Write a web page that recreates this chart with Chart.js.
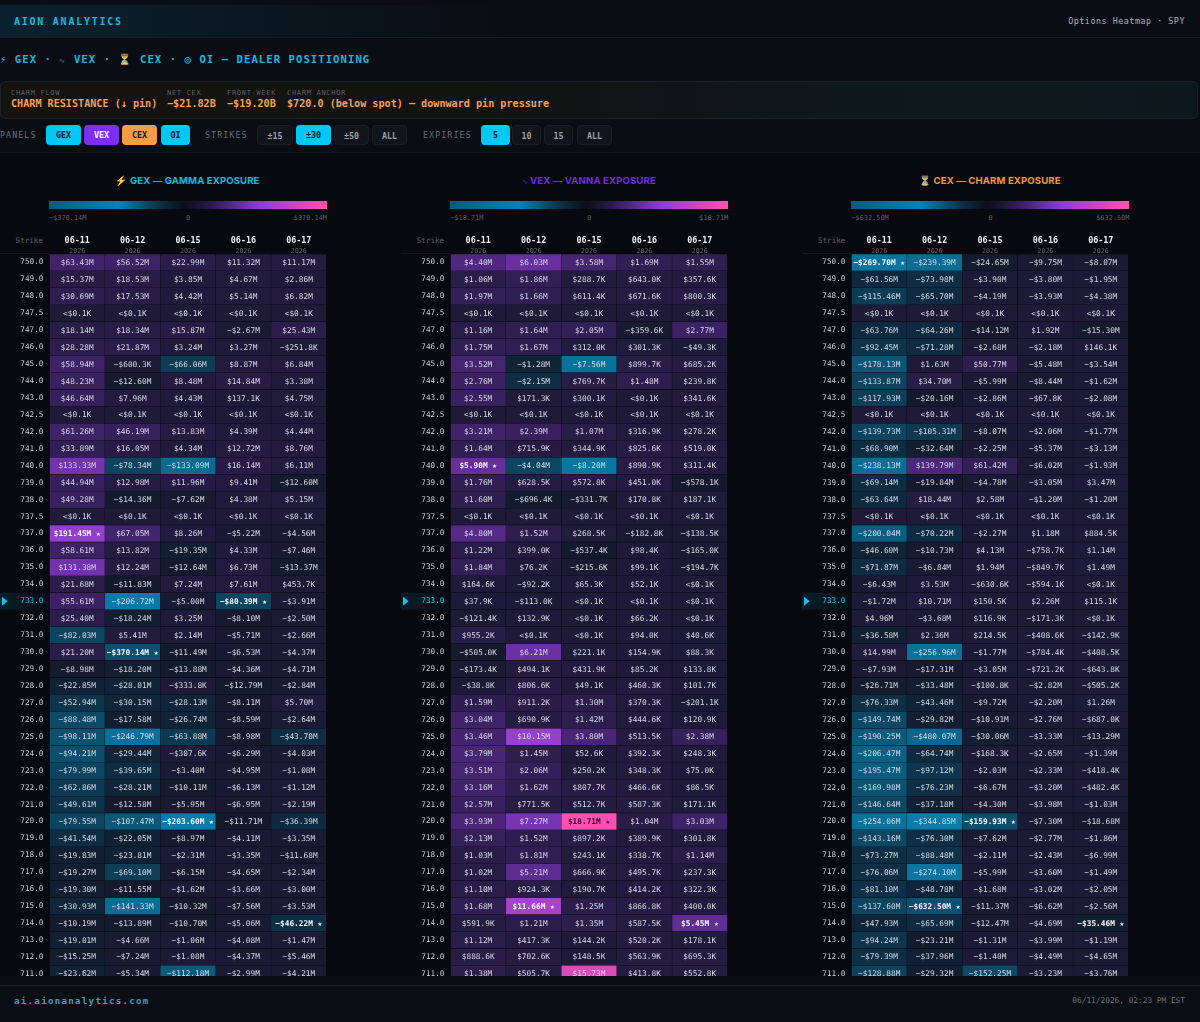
<!DOCTYPE html>
<html>
<head>
<meta charset="utf-8">
<title>Aion Analytics - Options Heatmap</title>
<script src="https://cdn.jsdelivr.net/npm/chart.js@4/dist/chart.umd.js"></script>
<style>
  * { box-sizing: border-box; }
  html, body { margin: 0; padding: 0; background: #0a0d14; }
  body { width: 1200px; height: 1022px; position: relative; overflow: hidden; font-family: "DejaVu Sans Mono", monospace; }
  .abs { position: absolute; white-space: nowrap; }
  .dim { font-size: 70%; opacity: .55; }
  #topbar { left: 0; top: 5px; width: 1200px; height: 33px; border-bottom: 1px solid #171c25; background: linear-gradient(90deg, #0a2230 0, #0a1a24 15%, #0a0d14 42%); }
  #brand { left: 14px; top: 16px; font: bold 10px "DejaVu Sans Mono", monospace; letter-spacing: 1.75px; color: #12b8e0; }
  #ctx { right: 15px; top: 16px; font: 8.4px "DejaVu Sans Mono", monospace; letter-spacing: .52px; color: #aab0ba; }
  #headline { left: 0; top: 53px; font: bold 10.6px "DejaVu Sans Mono", monospace; letter-spacing: 1.05px; color: #12b8e0; }
  #strip { left: 0; top: 81px; width: 1198px; height: 38px; border: 1px solid #1c2028; border-radius: 5px; background: linear-gradient(90deg, #15130f 0, #12130f 35%, #0e171c 70%, #0d181e 100%); }
  .lab { font: 7px "DejaVu Sans Mono", monospace; color: #5d5f66; letter-spacing: .7px; top: 89px; }
  .val { font: bold 10.15px "DejaVu Sans Mono", monospace; color: #f6a04d; top: 98px; }
  .group { font: 8.4px "DejaVu Sans Mono", monospace; letter-spacing: 1.05px; color: #686c75; top: 130px; }
  .btn { top: 125px; height: 20px; border-radius: 4px; font: bold 8.4px/20px "DejaVu Sans Mono", monospace; text-align: center; border: 1px solid #1b1e26; background: #12141b; color: #9a9ea8; }
  .btn.on { border: none; color: #0a1520; }
  #rule { left: 0; top: 152px; width: 1200px; height: 1px; background: #14171f; }
  #board { left: 0; top: 153px; width: 1200px; height: 823px; background: #08090f; overflow: hidden; }
  .ptitle { top: 175px; width: 401px; text-align: center; font: bold 9.6px Inter, sans-serif; letter-spacing: .1px; }
  .bar { top: 201px; width: 278px; height: 8px; background: linear-gradient(90deg, #0a5a7a 0, #0880b0 25%, #0b2f44 40%, #0c0e17 49%, #2a1a4a 58%, #8a40d0 76%, #ff50b0 100%); }
  .scale { top: 214px; font: 6.9px "DejaVu Sans Mono", monospace; color: #5c5f68; }
  .strike { top: 236px; font: 7.6px "DejaVu Sans Mono", monospace; color: #5c5f68; width: 43px; text-align: right; }
  .wrap { top: 226px; width: 401px; height: 750px; overflow: hidden; }
  #footer { left: 0; top: 985px; width: 1200px; height: 37px; border-top: 1px solid #1a2028; background: #0a0e15; }
  #site { left: 14px; top: 995px; font: bold 9.2px "DejaVu Sans Mono", monospace; letter-spacing: 1.25px; color: #3e9dbb; }
  #stamp { right: 15px; top: 996px; font: 7.8px "DejaVu Sans Mono", monospace; color: #6c707a; }
</style>
</head>
<body>
<div class="abs" id="topbar"></div>
<div class="abs" id="brand">AION ANALYTICS</div>
<div class="abs" id="ctx">Options Heatmap · SPY</div>
<div class="abs" id="headline">⚡ GEX · <span class="dim">∿</span> VEX · ⏳ CEX · ◎ OI — DEALER POSITIONING</div>
<div class="abs" id="strip"></div>
<div class="abs" id="rule"></div>
<div class="abs" id="board"></div>
<div class="abs" id="footer"></div>
<div class="abs" id="site">ai.aionanalytics.com</div>
<div class="abs" id="stamp">06/11/2026, 02:23 PM EST</div>

<script>
const expiries = ["06-11", "06-12", "06-15", "06-16", "06-17"];
const expiryYear = "2026";
const spotStrike = "733.0";
const strikes = ["750.0","749.0","748.0","747.5","747.0","746.0","745.0","744.0","743.0","742.5","742.0","741.0","740.0","739.0","738.0","737.5","737.0","736.0","735.0","734.0","733.0","732.0","731.0","730.0","729.0","728.0","727.0","726.0","725.0","724.0","723.0","722.0","721.0","720.0","719.0","718.0","717.0","716.0","715.0","714.0","713.0","712.0","711.0"];

// values in $M, one row per strike, 0 means <$0.1K
const gexRows = [
  [63.43,56.52,22.99,11.32,11.17],[15.37,18.53,3.85,4.67,2.86],[30.69,17.53,4.42,5.14,6.82],[0,0,0,0,0],
  [18.14,18.34,15.87,-2.67,25.43],[28.28,21.87,3.24,3.27,-0.2518],[58.94,-0.6003,-66.06,8.87,6.84],[48.23,-12.60,8.48,14.84,3.38],
  [46.64,7.96,4.43,0.1371,4.75],[0,0,0,0,0],[61.26,46.19,13.83,4.39,4.44],[33.89,16.05,4.34,12.72,8.76],
  [133.33,-78.34,-133.09,16.14,6.11],[44.94,12.98,11.96,9.41,-12.60],[49.28,-14.36,-7.62,4.38,5.15],[0,0,0,0,0],
  [191.45,67.05,8.26,-5.22,-4.56],[58.61,13.82,-19.35,4.33,-7.46],[131.38,12.24,-12.64,6.73,-13.37],[21.68,-11.83,7.24,7.61,0.4537],
  [55.61,-206.72,-5.00,-80.39,-3.91],[25.40,-18.24,3.25,-8.10,-2.50],[-82.03,5.41,2.14,-5.71,-2.66],[21.20,-370.14,-11.49,-6.53,-4.37],
  [-8.98,-18.20,-13.88,-4.36,-4.71],[-22.85,-28.01,-0.3338,-12.79,-2.84],[-52.94,-30.15,-28.13,-8.11,5.70],[-88.48,-17.58,-26.74,-8.59,-2.64],
  [-98.11,-246.79,-63.88,-8.98,-43.70],[-94.21,-29.44,-0.3076,-6.29,-4.03],[-79.99,-39.65,-3.40,-4.95,-1.08],[-62.86,-28.21,-10.11,-6.13,-1.12],
  [-49.61,-12.58,-5.95,-6.95,-2.19],[-79.55,-107.47,-203.60,-11.71,-36.39],[-41.54,-22.05,-8.97,-4.11,-3.35],[-19.83,-23.81,-2.31,-3.35,-11.68],
  [-19.27,-69.10,-6.15,-4.65,-2.34],[-19.30,-11.55,-1.62,-3.66,-3.00],[-30.93,-141.33,-10.32,-7.56,-3.53],[-10.19,-13.89,-10.70,-5.06,-46.22],
  [-19.01,-4.66,-1.06,-4.08,-1.47],[-15.25,-7.24,-1.08,-4.37,-5.46],[-23.62,-5.34,-112.18,-2.99,-4.21]
];
const vexRows = [
  [4.40,6.03,3.58,1.69,1.55],[1.06,1.86,0.2887,0.6430,0.3576],[1.97,1.66,0.6114,0.6716,0.8003],[0,0,0,0,0],
  [1.16,1.64,2.05,-0.3596,2.77],[1.75,1.67,0.3120,0.3013,-0.0493],[3.52,-1.28,-7.56,0.8997,0.6852],[2.76,-2.15,0.7697,1.48,0.2398],
  [2.55,0.1713,0.3001,0,0.3416],[0,0,0,0,0],[3.21,2.39,1.07,0.3169,0.2782],[1.64,0.7159,0.3449,0.8256,0.5190],
  [5.90,-4.04,-8.20,0.8909,0.3114],[1.76,0.6285,0.5728,0.4510,-0.5781],[1.60,-0.6964,-0.3317,0.1708,0.1871],[0,0,0,0,0],
  [4.80,1.52,0.2685,-0.1828,-0.1385],[1.22,0.3990,-0.5374,0.0984,-0.1650],[1.84,0.0762,-0.2156,0.0991,-0.1947],[0.1646,-0.0922,0.0653,0.0521,0],
  [0.0379,-0.1130,0,0,0],[-0.1214,0.1329,0,0.0662,0],[0.9552,0,0,0.0940,0.0406],[-0.5050,6.21,0.2211,0.1549,0.0883],
  [-0.1734,0.4941,0.4319,0.0852,0.1338],[-0.0388,0.8066,0.0491,0.4603,0.1017],[1.59,0.9112,1.30,0.3703,-0.2011],[3.04,0.6909,1.42,0.4446,0.1209],
  [3.46,10.15,3.80,0.5135,2.38],[3.79,1.45,0.0526,0.3923,0.2483],[3.51,2.06,0.2502,0.3483,0.0750],[3.16,1.62,0.8077,0.4666,0.0865],
  [2.57,0.7715,0.5127,0.5873,0.1711],[3.93,7.27,18.71,1.04,3.03],[2.13,1.52,0.8972,0.3899,0.3018],[1.03,1.81,0.2431,0.3387,1.14],
  [1.02,5.21,0.6669,0.4957,0.2373],[1.10,0.9243,0.1907,0.4142,0.3223],[1.68,11.66,1.25,0.8668,0.4000],[0.5919,1.21,1.35,0.5875,5.45],
  [1.12,0.4173,0.1442,0.5202,0.1781],[0.8886,0.7026,0.1485,0.5639,0.6953],[1.38,0.5057,15.73,0.4138,0.5528]
];
const cexRows = [
  [-269.70,-239.39,-24.65,-9.75,-8.07],[-61.56,-73.98,-3.90,-3.80,-1.95],[-115.46,-65.70,-4.19,-3.93,-4.38],[0,0,0,0,0],
  [-63.76,-64.26,-14.12,1.92,-15.30],[-92.45,-71.28,-2.68,-2.18,0.1461],[-178.13,1.63,50.77,-5.48,-3.54],[-133.87,34.70,-5.99,-8.44,-1.62],
  [-117.93,-20.16,-2.86,-0.0678,-2.08],[0,0,0,0,0],[-139.73,-105.31,-8.07,-2.06,-1.77],[-68.90,-32.64,-2.25,-5.37,-3.13],
  [-238.13,139.79,61.42,-6.02,-1.93],[-69.14,-19.84,-4.78,-3.05,3.47],[-63.64,18.44,2.58,-1.20,-1.20],[0,0,0,0,0],
  [-200.04,-70.22,-2.27,1.18,0.8845],[-46.60,-10.73,4.13,-0.7587,1.14],[-71.87,-6.84,1.94,-0.8497,1.49],[-6.43,3.53,-0.6306,-0.5941,0],
  [-1.72,10.71,0.1505,2.26,0.1151],[4.96,-3.68,0.1169,-0.1713,0],[-36.58,2.36,0.2145,-0.4086,-0.1429],[14.99,-256.96,-1.77,-0.7844,-0.4085],
  [-7.93,-17.31,-3.05,-0.7212,-0.6438],[-26.71,-33.48,-0.1008,-2.82,-0.5052],[-76.33,-43.46,-9.72,-2.20,1.26],[-149.74,-29.82,-10.91,-2.76,-0.6870],
  [-190.25,-480.07,-30.06,-3.33,-13.29],[-206.47,-64.74,-0.1683,-2.65,-1.39],[-195.47,-97.12,-2.03,-2.33,-0.4184],[-169.98,-76.23,-6.67,-3.20,-0.4824],
  [-146.64,-37.18,-4.30,-3.98,-1.03],[-254.06,-344.85,-159.93,-7.30,-18.68],[-143.16,-76.30,-7.62,-2.77,-1.86],[-73.27,-88.48,-2.11,-2.43,-6.99],
  [-76.06,-274.10,-5.99,-3.60,-1.49],[-81.10,-48.78,-1.68,-3.02,-2.05],[-137.60,-632.50,-11.37,-6.62,-2.56],[-47.93,-65.69,-12.47,-4.69,-35.46],
  [-94.24,-23.21,-1.31,-3.99,-1.19],[-79.39,-37.96,-1.40,-4.49,-4.65],[-128.88,-29.32,-152.25,-3.23,-3.76]
];

// largest cell of a column, marked with a star in the page
const gexStars = [["737.0",0],["730.0",1],["720.0",2],["733.0",3],["714.0",4]];
const vexStars = [["740.0",0],["715.0",1],["720.0",2],["714.0",4]];
const cexStars = [["750.0",0],["715.0",1],["720.0",2],["714.0",4]];

const gexMax = 370.14;
const vexMax = 18.71;
const cexMax = 632.50;

// color stops, position is |value| / max
const posStops = [[0,[30,26,56]],[0.17,[64,35,106]],[0.36,[114,51,172]],[0.5,[140,63,204]],[0.75,[192,72,192]],[1,[255,79,176]]];
const negStops = [[0,[30,26,56]],[0.03,[20,26,44]],[0.1,[14,42,64]],[0.22,[13,69,96]],[0.36,[10,106,144]],[0.5,[8,128,176]],[1,[10,80,112]]];

const cellColor = (value, max) => {
  const stops = value < 0 ? negStops : posStops;
  const t = Math.abs(value) / max;
  for (let i = 1; i < stops.length; i++) {
    if (t <= stops[i][0]) {
      const [a, ca] = stops[i - 1];
      const [b, cb] = stops[i];
      const f = (t - a) / (b - a);
      return `rgb(${ca.map((c, k) => Math.round(c + (cb[k] - c) * f)).join(",")})`;
    }
  }
  return `rgb(${stops[stops.length - 1][1].join(",")})`;
};

const formatCell = (value) => {
  if (value === 0) return "<$0.1K";
  const sign = value < 0 ? "−" : "";
  const abs = Math.abs(value);
  return abs >= 1 ? `${sign}$${abs.toFixed(2)}M` : `${sign}$${(abs * 1000).toFixed(1)}K`;
};

/* Cell labels and the spot marker, placed from the chart's own elements and scales */
const heatPlugin = {
  id: "heatPlugin",
  beforeDatasetsDraw(chart) {
    const { ctx, scales: { y } } = chart;
    const spotY = y.getPixelForValue(strikes.indexOf(spotStrike));
    const half = y.height / strikes.length / 2;
    const band = ctx.createLinearGradient(0, 0, y.right, 0);
    band.addColorStop(0, "rgba(0,200,240,0.12)");
    band.addColorStop(1, "rgba(0,200,240,0.02)");
    ctx.save();
    ctx.fillStyle = band;
    ctx.fillRect(0, spotY - half, y.right, half * 2);
    ctx.fillStyle = "#12c4ee";
    ctx.beginPath();
    ctx.moveTo(2, spotY - 4.5);
    ctx.lineTo(7.5, spotY);
    ctx.lineTo(2, spotY + 4.5);
    ctx.closePath();
    ctx.fill();
    ctx.strokeStyle = "#14171f";
    ctx.beginPath();
    ctx.moveTo(0, y.top - 0.5);
    ctx.lineTo(y.right, y.top - 0.5);
    ctx.stroke();
    ctx.restore();
  },
  afterDatasetsDraw(chart, args, opts) {
    const { ctx } = chart;
    ctx.save();
    ctx.textAlign = "center";
    ctx.textBaseline = "middle";
    expiries.forEach((_, col) => {
      const meta = chart.getDatasetMeta(col);
      meta.data.forEach((cell, row) => {
        const value = opts.rows[row][col];
        const star = opts.stars.some(([s, c]) => s === strikes[row] && c === col);
        const { x, y } = cell.getCenterPoint();
        ctx.font = `${star ? "bold " : ""}7.8px "DejaVu Sans Mono", monospace`;
        ctx.fillStyle = Math.abs(value) / opts.max > 0.9 && value > 0 ? "#2a0a30" : star ? "#f6f8fc" : "#d6d9e2";
        ctx.fillText(formatCell(value) + (star ? " ★" : ""), x, y + 0.5);
      });
    });
    ctx.restore();
  }
};

const centerTicks = (scale) => {
  scale.ticks = expiries.map((_, i) => ({ value: i + 0.5 }));
};

const drawPanel = (canvas, rows, stars, max) => {
  new Chart(canvas.getContext("2d"), {
    type: "bar",
    data: {
      labels: strikes,
      datasets: expiries.map((expiry, col) => ({
        label: expiry,
        data: rows.map(() => [col, col + 1]),
        backgroundColor: rows.map((row) => cellColor(row[col], max)),
        borderColor: "rgba(8,9,15,0.32)",
        borderWidth: 0.5,
        grouped: false,
        barPercentage: 1,
        categoryPercentage: 1
      }))
    },
    options: {
      indexAxis: "y",
      responsive: false,
      animation: false,
      layout: { padding: { right: 74.5 } },
      plugins: {
        legend: { display: false },
        tooltip: { enabled: false },
        heatPlugin: { rows, stars, max }
      },
      scales: {
        x: {
          type: "linear",
          position: "top",
          weight: 1,
          min: 0,
          max: expiries.length,
          grid: { display: false, drawTicks: false },
          border: { display: false },
          afterBuildTicks: centerTicks,
          afterFit: (scale) => { scale.height = 20; },
          ticks: {
            autoSkip: false,
            maxRotation: 0,
            padding: 0,
            color: "#eef0f5",
            font: { family: "DejaVu Sans Mono", size: 8.4, weight: "bold" },
            callback: (value) => expiries[value - 0.5]
          }
        },
        year: {
          type: "linear",
          position: "top",
          axis: "x",
          weight: 0,
          min: 0,
          max: expiries.length,
          grid: { display: false, drawTicks: false },
          border: { display: false },
          afterBuildTicks: centerTicks,
          afterFit: (scale) => { scale.height = 8; },
          ticks: {
            autoSkip: false,
            maxRotation: 0,
            padding: -1,
            color: "#5c5f68",
            font: { family: "DejaVu Sans Mono", size: 6.6 },
            callback: () => expiryYear
          }
        },
        y: {
          type: "category",
          grid: { display: false, drawTicks: false },
          border: { display: false },
          afterFit: (scale) => { scale.width = 49.5; },
          ticks: {
            autoSkip: false,
            padding: 6,
            color: (c) => (strikes[c.index] === spotStrike ? "#12c4ee" : "#c8cbd4"),
            font: { family: "DejaVu Sans Mono", size: 7.7 }
          }
        }
      }
    },
    plugins: [heatPlugin]
  });
};

/* Page chrome that sits around the charts */
const addDiv = (cls, text, style) => {
  const el = document.createElement("div");
  el.className = "abs " + cls;
  el.textContent = text;
  Object.assign(el.style, style);
  document.body.appendChild(el);
  return el;
};

[["CHARM FLOW", 11], ["NET CEX", 167], ["FRONT-WEEK", 227], ["CHARM ANCHOR", 287]].forEach(([t, x]) => addDiv("lab", t, { left: x + "px" }));
[["CHARM RESISTANCE (↓ pin)", 11], ["−$21.82B", 167], ["−$19.20B", 227], ["$720.0 (below spot) — downward pin pressure", 287]].forEach(([t, x]) => addDiv("val", t, { left: x + "px" }));
[["PANELS", 0], ["STRIKES", 205], ["EXPIRIES", 423]].forEach(([t, x]) => addDiv("group", t, { left: x + "px" }));
[
  ["GEX", 46, 35, "#00c8f5"], ["VEX", 84, 35, "#7c2ff0", "#fff"], ["CEX", 122, 35, "#f89c45"], ["OI", 161, 29, "#00c8f5"],
  ["±15", 257, 36], ["±30", 296, 35, "#00c8f5"], ["±50", 334, 35], ["ALL", 372, 35],
  ["5", 481, 29, "#00c8f5"], ["10", 512, 29], ["15", 544, 29], ["ALL", 577, 35]
].forEach(([t, x, w, bg, fg]) => {
  const el = addDiv("btn" + (bg ? " on" : ""), t, { left: x + "px", width: w + "px" });
  if (bg) el.style.background = bg;
  if (fg) el.style.color = fg;
});

const panels = [
  { left: 0, icon: "⚡", title: " GEX — GAMMA EXPOSURE", color: "#12b8dc", rows: gexRows, stars: gexStars, max: gexMax },
  { left: 401.2, icon: "∿", title: " VEX — VANNA EXPOSURE", color: "#6a2ce0", rows: vexRows, stars: vexStars, max: vexMax, dimIcon: true },
  { left: 802.4, icon: "⏳", title: " CEX — CHARM EXPOSURE", color: "#f0963c", rows: cexRows, stars: cexStars, max: cexMax }
];

panels.forEach((p) => {
  const cellsLeft = p.left + 49.5;
  const head = addDiv("ptitle", "", { left: (p.left - 13) + "px", color: p.color });
  const icon = document.createElement("span");
  icon.textContent = p.icon;
  if (p.dimIcon) icon.className = "dim";
  head.append(icon, p.title);
  addDiv("bar", "", { left: (cellsLeft - 0.5) + "px" });
  const maxText = formatCell(p.max);
  addDiv("scale", "−" + maxText, { left: (cellsLeft - 0.5) + "px" });
  addDiv("scale", "0", { left: (cellsLeft + 136.5) + "px" });
  addDiv("scale", maxText, { right: (1200 - cellsLeft - 277.5) + "px" });
  addDiv("strike", "Strike", { left: p.left + "px" });

  const wrap = addDiv("wrap", "", { left: p.left + "px" });
  const canvas = document.createElement("canvas");
  canvas.width = 401;
  canvas.height = 767;
  canvas.style.display = "block";
  wrap.appendChild(canvas);
  drawPanel(canvas, p.rows, p.stars, p.max);
});
</script>
</body>
</html>
